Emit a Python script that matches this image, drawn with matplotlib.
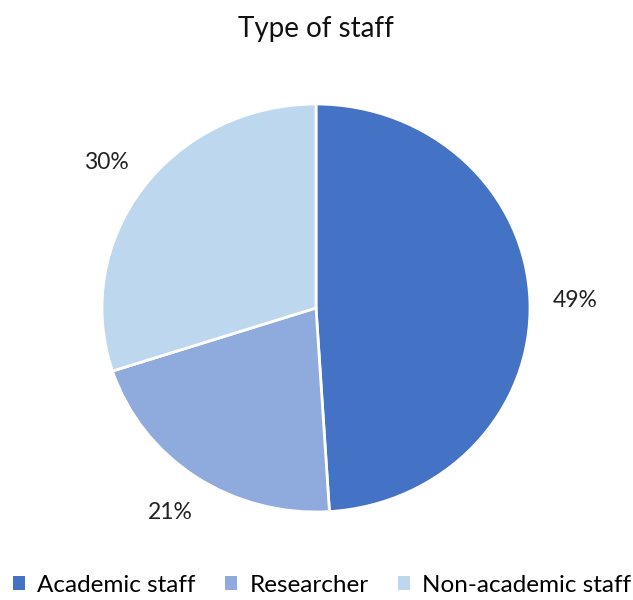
import matplotlib
matplotlib.use("Agg")
import matplotlib.pyplot as plt
from matplotlib.patches import Patch

categories = ["Academic staff", "Researcher", "Non-academic staff"]
shares = [49, 21, 30]
colors = ["#4472C4", "#8FAADC", "#BDD7EE"]
title = "Type of staff"

plt.rcParams["font.family"] = ["Lato", "DejaVu Sans"]

W, H = 633, 600
fig = plt.figure(figsize=(W / 100, H / 100), dpi=100)
cx, cy, rx, ry = 316, 308, 214, 204
ax = fig.add_axes([(cx - rx) / W, (H - cy - ry) / H, 2 * rx / W, 2 * ry / H])

wedges, texts, autotexts = ax.pie(
    shares, colors=colors, startangle=90, counterclock=False,
    autopct=lambda p: f"{p:.0f}%", pctdistance=1.21,
    wedgeprops=dict(edgecolor="white", linewidth=2),
    textprops=dict(fontsize=16.5, color="#222222"),
)
ax.set_xlim(-1, 1)
ax.set_ylim(-1, 1)
ax.set_aspect("auto")

fig.text(cx / W, 1 - 29 / H, title, ha="center", va="center", fontsize=20, color="#111111")

handles = [Patch(facecolor=c, edgecolor="none") for c in colors]
fig.legend(handles, categories, loc="center", bbox_to_anchor=(322 / W, 1 - 585 / H),
           ncol=3, frameon=False, fontsize=17.5, handlelength=0.5, handleheight=0.5,
           handletextpad=0.5, columnspacing=1.2)

fig.savefig("out.png", dpi=100)
